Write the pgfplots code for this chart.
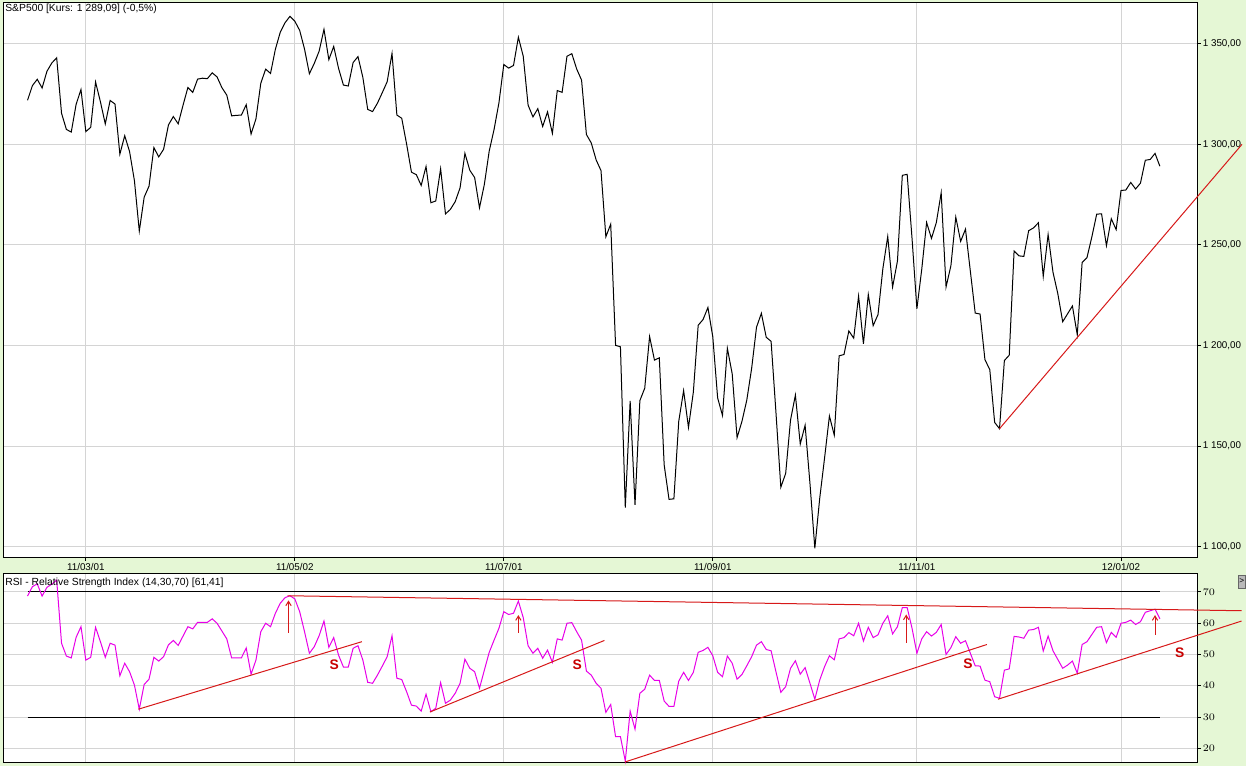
\documentclass[border=0pt]{standalone}
\usepackage{pgfplots}
\usepackage{pgfplotstable}
\pgfplotsset{compat=1.18}
\usepackage{fontspec}
\setmainfont{Liberation Sans}
\usetikzlibrary{arrows.meta}

\definecolor{bgg}{RGB}{229,247,213}
\definecolor{gridc}{RGB}{212,212,212}
\definecolor{trend}{RGB}{215,25,25}
\definecolor{rsic}{RGB}{232,0,232}
\definecolor{sred}{RGB}{200,0,0}

% trading day index, S&P500 close, RSI(14)
\pgfplotstableread{
i close rsi
0 1321.87 68.7
1 1329.15 71.7
2 1332.32 72.6
3 1328.01 68.7
4 1336.32 71.5
5 1340.43 72.5
6 1343.01 73.8
7 1315.44 53.6
8 1307.40 49.5
9 1306.10 48.9
10 1319.88 55.5
11 1327.22 58.9
12 1306.33 48.2
13 1308.44 49.1
14 1330.97 58.7
15 1321.15 54.1
16 1310.13 49.1
17 1321.82 53.6
18 1320.02 53.0
19 1295.11 43.2
20 1304.28 47.2
21 1296.39 44.5
22 1281.87 40.2
23 1256.88 32.5
24 1273.72 40.4
25 1279.21 42.1
26 1298.38 49.1
27 1293.77 47.9
28 1297.54 49.3
29 1309.66 53.1
30 1313.80 54.5
31 1310.19 52.9
32 1319.44 55.9
33 1328.26 58.9
34 1325.83 58.2
35 1332.41 60.3
36 1332.87 60.3
37 1332.63 60.3
38 1335.54 61.4
39 1333.51 60.0
40 1328.17 57.5
41 1324.46 55.0
42 1314.16 48.9
43 1314.41 48.9
44 1314.52 48.9
45 1319.68 52.1
46 1305.14 43.7
47 1312.62 48.2
48 1330.36 57.3
49 1337.38 60.0
50 1335.25 58.9
51 1347.24 63.2
52 1355.66 66.4
53 1360.48 68.2
54 1363.61 68.8
55 1361.22 67.8
56 1356.62 63.7
57 1347.32 57.3
58 1335.10 50.4
59 1340.20 52.5
60 1346.29 56.0
61 1357.16 60.7
62 1342.08 52.3
63 1348.65 55.4
64 1337.77 49.8
65 1329.47 46.0
66 1328.98 46.0
67 1340.68 52.0
68 1343.60 52.8
69 1333.27 48.2
70 1317.37 41.1
71 1316.28 40.8
72 1320.47 43.4
73 1325.69 46.3
74 1331.10 49.3
75 1345.20 56.0
76 1314.55 42.4
77 1312.94 42.0
78 1300.16 38.1
79 1286.17 33.8
80 1284.94 33.5
81 1279.56 31.9
82 1289.00 37.3
83 1270.98 31.7
84 1271.83 32.8
85 1287.87 41.0
86 1265.42 34.4
87 1267.64 35.4
88 1271.50 37.6
89 1278.36 40.8
90 1295.52 48.5
91 1287.14 45.6
92 1283.50 44.5
93 1268.45 39.2
94 1280.10 45.0
95 1296.67 50.7
96 1307.41 54.6
97 1320.64 58.4
98 1339.67 63.7
99 1337.88 62.8
100 1339.22 63.2
101 1353.22 67.1
102 1343.80 61.8
103 1319.49 52.8
104 1313.64 50.4
105 1317.72 52.0
106 1308.87 48.8
107 1316.14 51.4
108 1305.44 47.5
109 1326.73 55.0
110 1325.84 54.6
111 1343.80 60.0
112 1345.02 60.2
113 1337.43 57.3
114 1331.94 54.6
115 1304.89 44.7
116 1300.67 43.4
117 1292.28 40.8
118 1286.94 39.2
119 1254.05 31.5
120 1260.34 34.0
121 1200.07 23.7
122 1199.38 23.7
123 1119.46 15.9
124 1172.53 31.9
125 1120.76 26.1
126 1172.64 37.6
127 1178.81 38.9
128 1204.49 43.4
129 1192.76 41.7
130 1193.89 41.7
131 1140.65 35.1
132 1123.53 33.4
133 1123.82 33.4
134 1162.35 41.5
135 1177.60 44.3
136 1159.27 41.7
137 1176.80 44.3
138 1210.08 50.7
139 1212.92 51.3
140 1218.89 52.3
141 1204.42 49.6
142 1173.97 44.3
143 1165.24 42.9
144 1198.62 49.5
145 1185.90 47.2
146 1154.23 42.1
147 1162.27 43.6
148 1172.87 46.4
149 1188.68 49.3
150 1209.11 53.0
151 1216.01 54.1
152 1204.09 51.6
153 1202.09 51.2
154 1166.76 44.5
155 1129.56 37.9
156 1136.43 39.7
157 1162.95 45.6
158 1175.38 48.0
159 1151.06 43.7
160 1160.40 45.8
161 1131.42 40.8
162 1099.23 35.7
163 1123.95 41.8
164 1144.03 46.1
165 1164.97 49.6
166 1155.46 48.3
167 1194.89 55.0
168 1195.54 55.4
169 1207.25 57.0
170 1203.66 56.0
171 1224.58 60.0
172 1200.86 54.3
173 1225.38 58.7
174 1209.88 55.4
175 1215.39 56.3
176 1238.25 60.0
177 1254.19 62.4
178 1229.05 56.6
179 1242.00 58.9
180 1284.59 65.0
181 1285.09 65.0
182 1253.30 58.4
183 1218.28 50.4
184 1237.90 55.0
185 1261.15 57.3
186 1253.23 55.9
187 1261.12 57.1
188 1275.92 59.6
189 1229.10 50.0
190 1239.70 52.2
191 1263.85 55.7
192 1251.78 53.6
193 1257.81 54.4
194 1236.91 50.4
195 1216.13 46.4
196 1215.65 46.3
197 1192.98 41.8
198 1188.04 41.3
199 1161.79 36.5
200 1158.67 36.0
201 1192.55 45.0
202 1195.19 45.4
203 1246.96 55.8
204 1244.58 55.6
205 1244.28 55.2
206 1257.08 57.8
207 1258.47 58.0
208 1261.01 58.7
209 1234.35 51.1
210 1255.19 55.9
211 1236.47 51.2
212 1225.73 48.4
213 1211.82 45.6
214 1215.75 46.6
215 1219.66 47.9
216 1205.35 44.0
217 1241.30 53.2
218 1243.72 54.1
219 1254.00 56.4
220 1265.33 58.7
221 1265.43 58.9
222 1249.64 53.8
223 1263.02 57.1
224 1257.60 55.5
225 1277.06 60.0
226 1277.30 60.3
227 1281.06 61.0
228 1277.81 59.6
229 1280.70 60.5
230 1292.08 63.5
231 1292.48 64.0
232 1295.50 64.5
233 1289.09 61.4
}\sp

\pgfplotsset{
  chartbase/.style={
    scale only axis, width=716.1pt, anchor=south west,
    xmin=-4.84, xmax=240.74,
    xtick={12,55,98,141,183,225},
    axis background/.style={fill=white},
    axis line style={black, line width=0.6pt},
    grid=major, major grid style={gridc, line width=0.6pt},
    tick style={black, line width=0.6pt},
    major tick length=1.8pt, tick align=outside,
    ytick pos=right, yticklabel pos=right,
    xtick pos=bottom,
    font=\fontsize{5.9}{7}\selectfont,
    yticklabel style={inner sep=1.2pt},
    xticklabel style={inner sep=1.5pt},
    clip=false,
  },
}

\begin{document}
\begin{tikzpicture}
\fill[bgg] (0pt,0pt) rectangle (747.6pt,459.6pt);

% price panel
\begin{axis}[chartbase,
    at={(2.4pt,124.8pt)}, height=333.3pt,
    ymin=1094.4, ymax=1370.5,
    ytick={1100,1150,1200,1250,1300,1350},
    yticklabels={{1 100,00},{1 150,00},{1 200,00},{1 250,00},{1 300,00},{1 350,00}},
    xticklabels={11/03/01,11/05/02,11/07/01,11/09/01,11/11/01,12/01/02},
  ]
  \addplot[black, line width=0.6pt] table[x=i, y=close] {\sp};
  \addplot[trend, line width=0.6pt] coordinates {(200,1158.67) (249.9,1300)};
\end{axis}

% RSI panel
\begin{axis}[chartbase,
    at={(2.4pt,2pt)}, height=113.2pt,
    ymin=15.4, ymax=75.76,
    ytick={20,30,40,50,60,70},
    xticklabels={}, major x tick style={draw=none},
  ]
  \addplot[black, line width=0.6pt] coordinates {(0,70) (233,70)};
  \addplot[black, line width=0.6pt] coordinates {(0,30) (233,30)};
  \addplot[rsic, line width=0.6pt] table[x=i, y=rsi] {\sp};
  \addplot[trend, line width=0.6pt] coordinates {(53.5,68.8) (249.8,64.0)};
  \addplot[trend, line width=0.6pt] coordinates {(22.8,32.5) (68.8,54.1)};
  \addplot[trend, line width=0.6pt] coordinates {(82.8,31.6) (118.7,54.5)};
  \addplot[trend, line width=0.6pt] coordinates {(122.9,15.6) (197.4,53.2)};
  \addplot[trend, line width=0.6pt] coordinates {(199.7,35.7) (249.8,60.7)};
  \draw[trend, line width=0.6pt, -{Straight Barb[length=2.6pt,width=3.2pt]}] (axis cs:53.7,56.9) -- (axis cs:53.7,67.3);
  \draw[trend, line width=0.6pt, -{Straight Barb[length=2.6pt,width=3.2pt]}] (axis cs:101,57.0) -- (axis cs:101,62.6);
  \draw[trend, line width=0.6pt, -{Straight Barb[length=2.6pt,width=3.2pt]}] (axis cs:180.8,53.8) -- (axis cs:180.8,62.8);
  \draw[trend, line width=0.6pt, -{Straight Barb[length=2.6pt,width=3.2pt]}] (axis cs:232,56.3) -- (axis cs:232,62.6);
  \node[sred, font=\bfseries\fontsize{8.3}{8}\selectfont] at (axis cs:63.1,46.8) {S};
  \node[sred, font=\bfseries\fontsize{8.3}{8}\selectfont] at (axis cs:113.1,46.6) {S};
  \node[sred, font=\bfseries\fontsize{8.3}{8}\selectfont] at (axis cs:193.5,47.1) {S};
  \node[sred, font=\bfseries\fontsize{8.3}{8}\selectfont] at (axis cs:237.1,50.7) {S};
\end{axis}

\node[anchor=west, inner sep=0pt, font=\fontsize{6.2}{7}\selectfont] at (3pt,454.2pt) {S\&P500 [Kurs: 1 289,09] (-0,5\%)};
\node[anchor=west, inner sep=0pt, font=\fontsize{6.2}{7}\selectfont] at (3pt,109.8pt) {RSI - Relative Strength Index (14,30,70) [61,41]};
\filldraw[fill=gray!55, draw=gray!80!black, line width=0.3pt] (742.8pt,106.8pt) rectangle (747.3pt,114.6pt);
\node[inner sep=0pt, font=\fontsize{5}{5}\selectfont] at (745.05pt,110.7pt) {>};
\end{tikzpicture}
\end{document}
